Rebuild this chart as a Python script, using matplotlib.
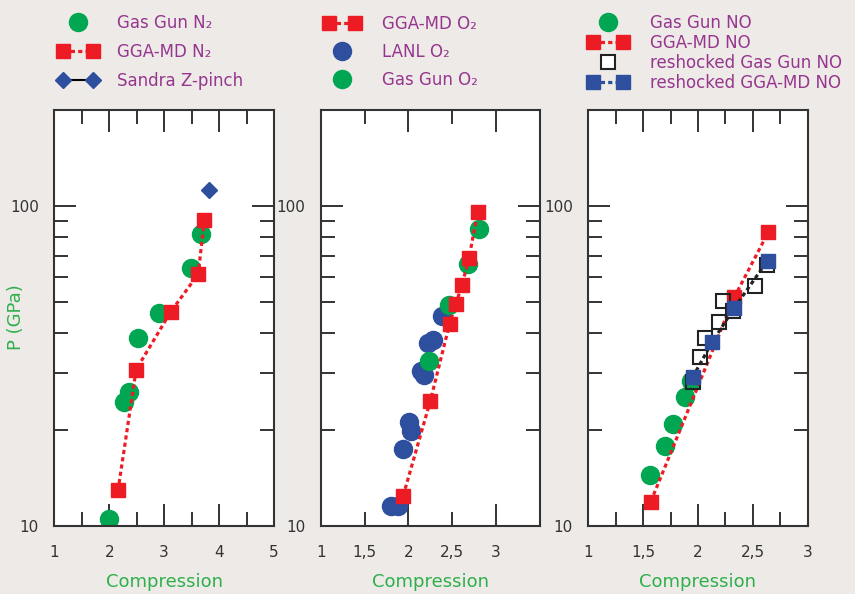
"""
Shock Hugoniot P vs compression: N2, O2, NO (three panels).
"""
import matplotlib
matplotlib.use("Agg")
import matplotlib.pyplot as plt
from matplotlib.lines import Line2D
from matplotlib.legend_handler import HandlerLine2D
from matplotlib.ticker import FixedLocator, FuncFormatter, NullFormatter

BG = "#eeeae7"
GREEN = "#00a651"
RED = "#ed1c24"
BLUE = "#2e4e9e"
PURPLE = "#96368f"
LABEL_GREEN = "#2db04b"
DARK = "#333333"

# ---------- N2 ----------
n2_gun_x = [2.00, 2.26, 2.36, 2.53, 2.90, 3.49, 3.67]
n2_gun_p = [10.5, 24.3, 26.2, 38.7, 46.4, 64.0, 81.8]
n2_md_x = [2.16, 2.49, 3.12, 3.62, 3.73]
n2_md_p = [12.9, 30.8, 46.7, 61.3, 90.2]
n2_z_x = [3.82]
n2_z_p = [112.0]

# ---------- O2 ----------
o2_md_x = [1.94, 2.25, 2.47, 2.54, 2.61, 2.69, 2.79]
o2_md_p = [12.4, 24.6, 42.9, 49.4, 56.6, 68.7, 96.0]
o2_gun_x = [2.24, 2.46, 2.68, 2.80]
o2_gun_p = [32.8, 49.2, 65.8, 85.1]
o2_lanl_x = [1.80, 1.88, 1.94, 2.01, 2.03, 2.14, 2.18, 2.22, 2.28, 2.38]
o2_lanl_p = [11.5, 11.5, 17.4, 21.1, 19.8, 30.5, 29.6, 37.3, 38.0, 45.2]

# ---------- NO ----------
no_gun_x = [1.565, 1.70, 1.77, 1.88, 1.94]
no_gun_p = [14.4, 17.8, 20.8, 25.2, 28.4]
no_md_x = [1.57, 2.33, 2.64]
no_md_p = [11.9, 51.8, 82.8]
no_rgun_x = [1.95, 2.02, 2.06, 2.19, 2.23, 2.32, 2.52, 2.63]
no_rgun_p = [28.1, 33.7, 38.6, 43.4, 50.6, 47.1, 56.4, 65.5]
no_rmd_x = [1.95, 2.13, 2.33, 2.635]
no_rmd_p = [29.1, 37.6, 48.0, 67.6]

DOTS = (0, (1.3, 1.0))

plt.rcParams["font.family"] = ["DejaVu Sans"]

fig = plt.figure(figsize=(8.55, 5.94), dpi=100, facecolor=BG)
W, H = 855.0, 594.0
bottom, top = 525.7, 110.0
lefts = [54.3, 320.7, 588.3]
rights = [274.0, 540.0, 807.7]
axes = []
for l, r in zip(lefts, rights):
    ax = fig.add_axes([l / W, 1 - bottom / H, (r - l) / W, (bottom - top) / H])
    axes.append(ax)


def style(ax, xlim, major, minor, minor_labels=False):
    ax.set_facecolor("white")
    ax.set_yscale("log")
    ax.set_ylim(10, 200)
    ax.set_xlim(*xlim)
    ax.yaxis.set_major_locator(FixedLocator([10, 100]))
    ax.yaxis.set_major_formatter(FuncFormatter(lambda v, _: f"{v:g}"))
    ax.yaxis.set_minor_locator(FixedLocator([20, 30, 40, 50, 60, 70, 80, 90]))
    ax.yaxis.set_minor_formatter(NullFormatter())
    fmt = FuncFormatter(lambda v, _: f"{v:g}".replace(".", ","))
    ax.xaxis.set_major_locator(FixedLocator(major))
    ax.xaxis.set_major_formatter(fmt)
    ax.xaxis.set_minor_locator(FixedLocator(minor))
    ax.xaxis.set_minor_formatter(fmt if minor_labels else NullFormatter())
    ax.tick_params(which="both", direction="in", top=True, right=True,
                   width=1.4, color=DARK, labelcolor=DARK, labelsize=11)
    ax.tick_params(axis="x", which="both", pad=14)
    ax.tick_params(axis="y", which="both", pad=11)
    ax.tick_params(which="major", length=16)
    ax.tick_params(which="minor", length=10)
    for s in ax.spines.values():
        s.set_linewidth(1.5)
        s.set_color(DARK)
    ax.set_xlabel("Compression", color=LABEL_GREEN, fontsize=13, labelpad=9)


style(axes[0], (1, 5), [1, 2, 3, 4, 5], [1.5, 2.5, 3.5, 4.5])
style(axes[1], (1, 3.5), [1, 2, 3], [1.5, 2.5], minor_labels=True)
style(axes[2], (1, 3), [1, 1.5, 2, 2.5, 3], [1.25, 1.75, 2.25, 2.75])
fig.text(16 / W, 1 - 317 / H, "P (GPa)", color=LABEL_GREEN, fontsize=13,
         rotation=90, ha="center", va="center")

leg_kw = dict(loc="upper left", bbox_transform=fig.transFigure, frameon=False,
              borderpad=0, borderaxespad=0, fontsize=12, labelcolor=PURPLE,
              numpoints=2)

# ---------- panel 1: N2 ----------
ax = axes[0]
h_gun, = ax.plot(n2_gun_x, n2_gun_p, "o", ms=13, color=GREEN, ls="none", zorder=2)
h_md, = ax.plot(n2_md_x, n2_md_p, ls=DOTS, lw=2.3, color=RED, marker="s", ms=10, zorder=3)
ax.plot(n2_z_x, n2_z_p, "D", ms=8, color=BLUE, ls="none", zorder=3)
h_z = Line2D([], [], color="black", lw=1.5, marker="D", ms=8, mfc=BLUE, mec=BLUE)
ax.legend([h_gun, h_md, h_z], ["Gas Gun N₂", "GGA-MD N₂", "Sandra Z-pinch"],
          bbox_to_anchor=(57.7 / W, 1 - 14 / H), handlelength=2.42,
          handletextpad=1.12, labelspacing=0.66,
          handler_map={h_gun: HandlerLine2D(numpoints=1)}, **leg_kw)

# ---------- panel 2: O2 ----------
ax = axes[1]
h_lanl, = ax.plot(o2_lanl_x, o2_lanl_p, "o", ms=13, color=BLUE, ls="none", zorder=2)
h_gun2, = ax.plot(o2_gun_x, o2_gun_p, "o", ms=13, color=GREEN, ls="none", zorder=2)
h_md2, = ax.plot(o2_md_x, o2_md_p, ls=DOTS, lw=2.3, color=RED, marker="s", ms=10, zorder=3)
ax.legend([h_md2, h_lanl, h_gun2], ["GGA-MD O₂", "LANL O₂", "Gas Gun O₂"],
          bbox_to_anchor=(324 / W, 1 - 15 / H), handlelength=2.16,
          handletextpad=1.3, labelspacing=0.61,
          handler_map={h_lanl: HandlerLine2D(numpoints=1),
                       h_gun2: HandlerLine2D(numpoints=1)}, **leg_kw)

# ---------- panel 3: NO ----------
ax = axes[2]
h_gun3, = ax.plot(no_gun_x, no_gun_p, "o", ms=13, color=GREEN, ls="none", zorder=2)
h_md3, = ax.plot(no_md_x, no_md_p, ls=DOTS, lw=2.3, color=RED, marker="s", ms=10, zorder=3)
ax.plot(no_rgun_x, no_rgun_p, "s", ms=10, mfc="none", mec="#222222", mew=1.5,
        ls="none", zorder=4)
ax.plot(no_rmd_x, no_rmd_p, ls=DOTS, lw=2.3, color="#222222", zorder=4)
ax.plot(no_rmd_x, no_rmd_p, "s", ms=10, color=BLUE, ls="none", zorder=5)
h_rgun = Line2D([], [], marker="s", ms=10, mfc="white", mec="#222222", mew=1.5, ls="none")
h_rmd = Line2D([], [], marker="s", ms=10, color=BLUE, ls=DOTS, lw=2.3)
ax.legend([h_gun3, h_md3, h_rgun, h_rmd],
          ["Gas Gun NO", "GGA-MD NO", "reshocked Gas Gun NO", "reshocked GGA-MD NO"],
          bbox_to_anchor=(588 / W, 1 - 14 / H), handlelength=2.4,
          handletextpad=1.32, labelspacing=0.12,
          handler_map={h_gun3: HandlerLine2D(numpoints=1),
                       h_rgun: HandlerLine2D(numpoints=1)}, **leg_kw)

fig.savefig("out.png", dpi=100, facecolor=BG)
